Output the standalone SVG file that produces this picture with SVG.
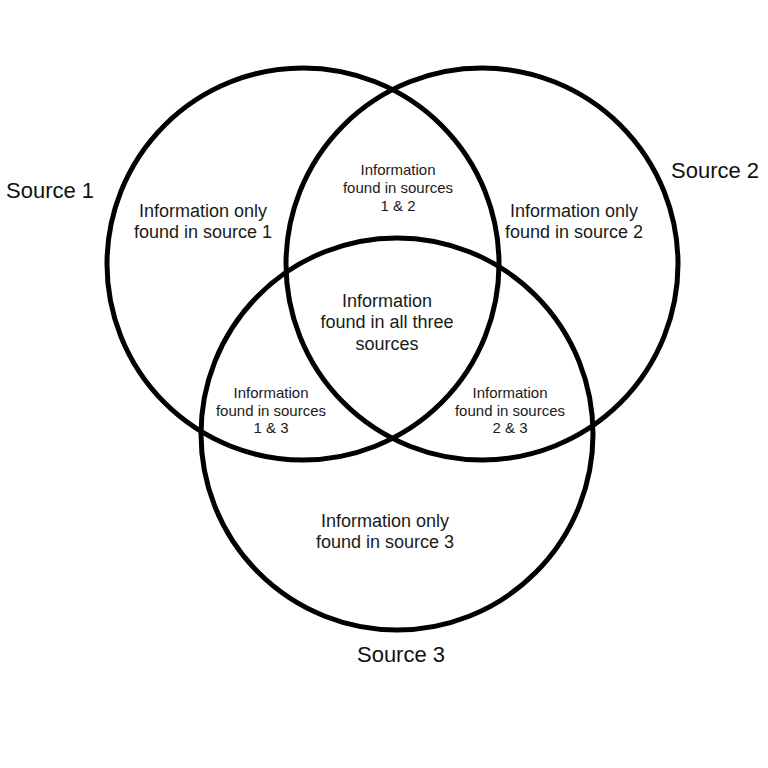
<svg xmlns="http://www.w3.org/2000/svg" width="768" height="768" viewBox="0 0 768 768">
  <style>
    .set { fill: none; stroke: #000; stroke-width: 5; }
    .lbl { font-family: "Liberation Sans", Arial, sans-serif; font-size: 22px; fill: #111; }
    .reg { font-family: "Liberation Sans", Arial, sans-serif; font-size: 18px; fill: #1a1a1a; text-anchor: middle; }
    .sm { font-family: "Liberation Sans", Arial, sans-serif; font-size: 15px; fill: #1a1a1a; text-anchor: middle; }
  </style>
  <rect width="768" height="768" fill="#fff"/>
  <g id="source1">
    <circle class="set" cx="303" cy="264" r="196"/>
    <text class="lbl" x="6" y="198">Source 1</text>
  </g>
  <g id="source2">
    <circle class="set" cx="482" cy="264" r="196"/>
    <text class="lbl" x="671" y="178">Source 2</text>
  </g>
  <g id="source3">
    <circle class="set" cx="397" cy="434" r="196"/>
    <text class="lbl" x="401" y="662" text-anchor="middle">Source 3</text>
  </g>
  <g id="only1">
    <text class="reg" x="203" y="217">Information only</text>
    <text class="reg" x="203" y="238">found in source 1</text>
  </g>
  <g id="only2">
    <text class="reg" x="574" y="217">Information only</text>
    <text class="reg" x="574" y="238">found in source 2</text>
  </g>
  <g id="only3">
    <text class="reg" x="385" y="527">Information only</text>
    <text class="reg" x="385" y="548">found in source 3</text>
  </g>
  <g id="s12">
    <text class="sm" x="398" y="175">Information</text>
    <text class="sm" x="398" y="193">found in sources</text>
    <text class="sm" x="398" y="211">1 &amp; 2</text>
  </g>
  <g id="s13">
    <text class="sm" x="271" y="398">Information</text>
    <text class="sm" x="271" y="416">found in sources</text>
    <text class="sm" x="271" y="433">1 &amp; 3</text>
  </g>
  <g id="s23">
    <text class="sm" x="510" y="398">Information</text>
    <text class="sm" x="510" y="416">found in sources</text>
    <text class="sm" x="510" y="433">2 &amp; 3</text>
  </g>
  <g id="all">
    <text class="reg" x="387" y="307">Information</text>
    <text class="reg" x="387" y="328">found in all three</text>
    <text class="reg" x="387" y="350">sources</text>
  </g>
  <g id="connectors"></g>
</svg>
